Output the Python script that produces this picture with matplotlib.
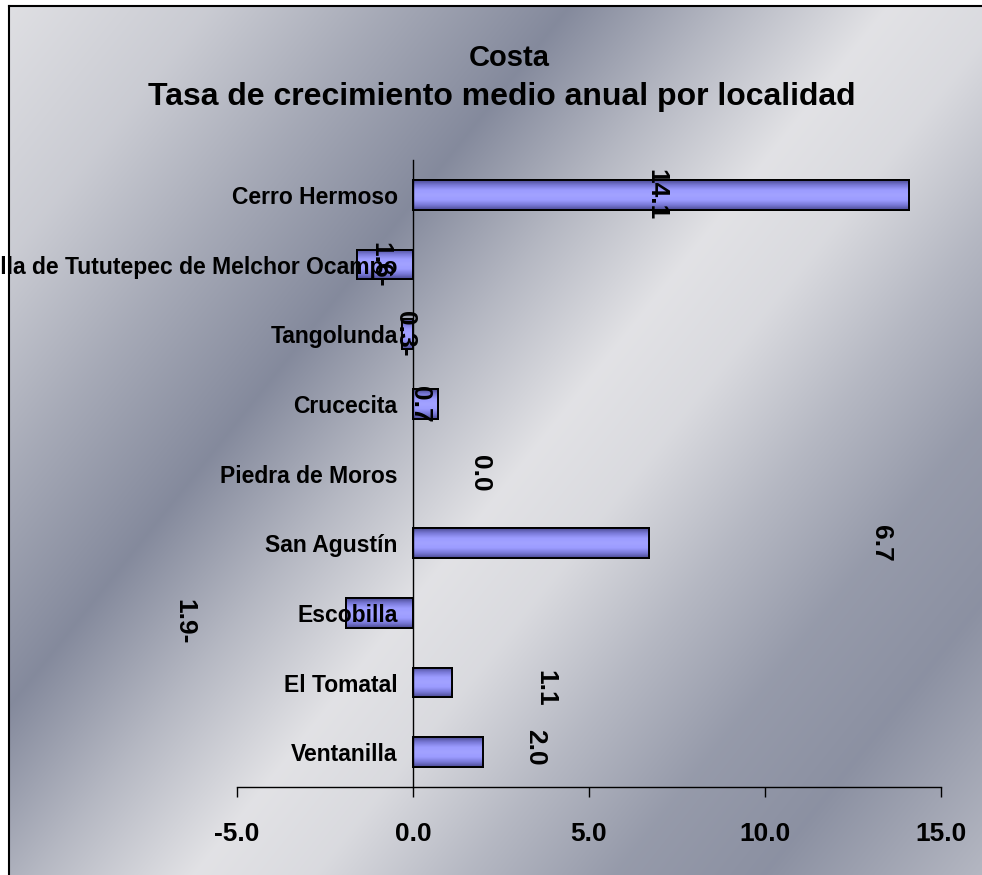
import numpy as np
import matplotlib
matplotlib.use("Agg")
import matplotlib.pyplot as plt
from matplotlib.colors import LinearSegmentedColormap
from matplotlib.lines import Line2D

# ---------------- data ----------------
categories = ["Cerro Hermoso", "Villa de Tututepec de Melchor Ocampo", "Tangolunda",
              "Crucecita", "Piedra de Moros", "San Agustín", "Escobilla",
              "El Tomatal", "Ventanilla"]
values = [14.1, -1.6, -0.3, 0.7, 0.0, 6.7, -1.9, 1.1, 2.0]
value_labels = ["14.1", "1.6-", "0.3-", "0.7", "0.0", "6.7", "1.9-", "1.1", "2.0"]
x_ticks = [-5.0, 0.0, 5.0, 10.0, 15.0]
x_tick_labels = ["-5.0", "0.0", "5.0", "10.0", "15.0"]
title_lines = ["Costa", "Tasa de crecimiento medio anual por localidad"]

# label placement (data units, layout only)
label_x = [6.9, -0.94, -0.23, 0.2, 1.9, 13.3, -6.5, 3.75, 3.47]
label_dy = [0.0, 0.0, 0.0, 0.0, 0.0, 0.0, 0.12, 0.08, -0.07]

FONT = "Liberation Sans"
W, H = 982, 875
fig = plt.figure(figsize=(W / 100, H / 100), dpi=100)
fig.patch.set_facecolor("white")

# ---------------- background gradient ----------------
bx0, by0 = 9, 6
bg = fig.add_axes([bx0 / W, 0, (W - bx0) / W, (H - by0) / H], zorder=-10)
bw, bh = W - bx0, H - by0
xx, yy = np.meshgrid(np.arange(bw), np.arange(bh))
u = xx + 0.8 * yy
stops_u = [0, 200, 380, 560, 720, 880, 1000, 1150, 1300, 1450, 1700]
stops_v = [0.05, 0.25, 0.60, 0.92, 0.45, 0.02, 0.10, 0.45, 0.75, 0.85, 0.40]
d = np.interp(u, stops_u, stops_v)  # 0 = light, 1 = dark
light = np.array([228, 228, 231], dtype=float)
dark = np.array([124, 130, 150], dtype=float)
rgb = light[None, None, :] * (1 - d[..., None]) + dark[None, None, :] * d[..., None]
rgb = np.clip(rgb, 0, 255) / 255.0
bg.imshow(rgb, aspect="auto", interpolation="bilinear")
bg.axis("off")
fig.add_artist(Line2D([bx0 / W, bx0 / W], [0, 1 - by0 / H], color="black", lw=1.5,
                      transform=fig.transFigure))
fig.add_artist(Line2D([bx0 / W, 1], [1 - by0 / H, 1 - by0 / H], color="black", lw=1.5,
                      transform=fig.transFigure))

# ---------------- main axes ----------------
ax = fig.add_axes([237 / W, (H - 787) / H, 704 / W, (787 - 160) / H])
ax.patch.set_alpha(0)

ypos = np.arange(len(categories))
bars = ax.barh(ypos, values, height=0.43, color="#9999ff", edgecolor="black",
               linewidth=1.4, zorder=2)

bar_cmap = LinearSegmentedColormap.from_list(
    "barg", ["#4c4c96", "#7a7ad8", "#9c9cff", "#a2a2ff", "#9c9cff", "#7a7ad8", "#4c4c96"])
grad = np.linspace(0, 1, 64).reshape(-1, 1)
for b in bars:
    x0, y0, w, h = b.get_x(), b.get_y(), b.get_width(), b.get_height()
    if w == 0:
        b.set_visible(False)
        continue
    im = ax.imshow(grad, cmap=bar_cmap, aspect="auto", interpolation="bilinear",
                   extent=[x0, x0 + w, y0 + h, y0], zorder=2.1)
    im.set_clip_path(b)
    ax.add_patch(plt.Rectangle((x0, y0), w, h, fill=False, edgecolor="black",
                               linewidth=1.4, zorder=2.2))

ax.set_xlim(-5, 15)
ax.set_ylim(len(categories) - 0.5, -0.5)

ax.spines["left"].set_position(("data", 0))
ax.spines["right"].set_visible(False)
ax.spines["top"].set_visible(False)
ax.spines["left"].set_linewidth(1.0)
ax.spines["bottom"].set_linewidth(1.0)
ax.spines["left"].set_zorder(3)

ax.set_yticks(ypos)
ax.set_yticklabels(categories, fontsize=16.5, fontweight="bold", family=FONT)
ax.tick_params(axis="y", length=0, pad=11)
for t in ax.get_yticklabels():
    t.set_zorder(5)
ax.yaxis.set_zorder(4)

ax.set_xticks(x_ticks)
ax.set_xticklabels(x_tick_labels, fontsize=19, fontweight="bold", family=FONT)
ax.tick_params(axis="x", direction="out", length=7.5, width=1.0, pad=18)

for i, (lx, lab) in enumerate(zip(label_x, value_labels)):
    ax.text(lx, ypos[i] + label_dy[i], lab, rotation=-90, ha="center", va="center",
            fontsize=19, fontweight="bold", family=FONT, zorder=6, clip_on=False)

fig.text(509 / W, 1 - 58 / H, title_lines[0], ha="center", va="center",
         fontsize=21, fontweight="bold", family=FONT)
fig.text(502 / W, 1 - 97 / H, title_lines[1], ha="center", va="center",
         fontsize=23, fontweight="bold", family=FONT)

fig.savefig("out.png", dpi=100)
